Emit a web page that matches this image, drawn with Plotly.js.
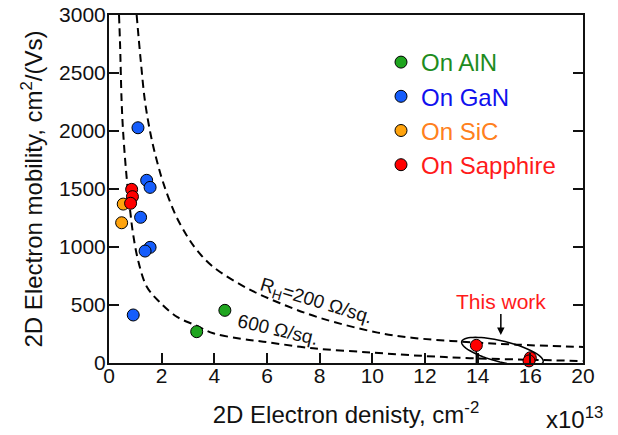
<!DOCTYPE html>
<html>
<head>
<meta charset="utf-8">
<script src="https://cdn.plot.ly/plotly-3.0.1.min.js"></script>
<style>html,body{margin:0;padding:0;background:#fff;}#chart{width:618px;height:435px;}</style>
</head>
<body>
<div id="chart"></div>
<script>
// ---- data (density in 1e13 cm^-2, mobility in cm^2/Vs)
const alnX = [3.33, 4.40];
const alnY = [270, 454];
const ganX = [1.10, 1.43, 1.56, 1.20, 1.56, 1.37, 0.92];
const ganY = [2028, 1575, 1514, 1256, 997, 965, 414];
const sicX = [0.54, 0.48];
const sicY = [1370, 1209];
const sapX = [0.86, 0.89, 0.82, 13.95, 16.0, 15.95];
const sapY = [1497, 1434, 1377, 152, 45, 18];
const sapStem = [0, 0, 0, 152, 0, 0];

const rh200X = [1.05, 1.2, 1.37, 1.6, 1.81, 2.05, 2.5, 2.95, 3.33, 3.95, 5.2, 6.5, 8.0, 10.2, 11.5, 13.4, 15.5, 18.0];
const rh200Y = [3000, 2620, 2250, 1950, 1750, 1560, 1290, 1100, 975, 830, 650, 515, 390, 262, 218, 184, 158, 138];
const rh600X = [0.38, 0.42, 0.48, 0.54, 0.67, 0.8, 0.91, 1.1, 1.43, 1.9, 2.6, 3.3, 3.96, 5.0, 5.86, 7.75, 10.0, 12.0, 13.7, 16.0, 18.0];
const rh600Y = [3000, 2750, 2250, 1980, 1600, 1320, 1120, 890, 660, 530, 395, 325, 256, 210, 184, 127, 90, 60, 42, 28, 17];

const xTickVals = [0, 2, 4, 6, 8, 10, 12, 14, 16, 18];
const xTickText = ['0', '2', '4', '6', '8', '10', '12', '14', '16', '20'];
const yTickVals = [0, 500, 1000, 1500, 2000, 2500, 3000];

// ---- styling
const FONT = 'Liberation Sans, Arial, sans-serif';
const W = 618, H = 435;
const M = {l: 109, r: 35, t: 15, b: 72, pad: 0};
const X_RANGE = [0, 18], Y_RANGE = [0, 3000];
const pxX = (W - M.l - M.r) / (X_RANGE[1] - X_RANGE[0]);
const pxY = (H - M.t - M.b) / (Y_RANGE[1] - Y_RANGE[0]);

function pts(name, x, y, fill, textColor, extra) {
  return Object.assign({
    type: 'scatter', mode: 'markers', x: x, y: y,
    name: '<span style="color:' + textColor + '">' + name + '</span>',
    legendgroup: name,
    cliponaxis: false,
    marker: {size: 12, color: fill, line: {color: '#000', width: 1}}
  }, extra || {});
}
function curve(x, y) {
  return {type: 'scatter', mode: 'lines', x: x, y: y, showlegend: false, hoverinfo: 'skip',
    line: {color: '#000', width: 2, dash: '8px,5px', shape: 'spline', smoothing: 1}};
}

const traces = [
  curve(rh200X, rh200Y),
  curve(rh600X, rh600Y),
  pts('On AlN', alnX, alnY, '#1fa51f', '#1e8c1e'),
  pts('On GaN', ganX, ganY, '#155dfc', '#1010ee'),
  pts('On SiC', sicX, sicY, '#ffa30d', '#ff8020'),
  pts('On Sapphire', sapX, sapY, '#ff0000', '#ff1a1a', {
    error_y: {type: 'data', symmetric: false, array: sapX.map(() => 0), arrayminus: sapStem,
      color: '#000', thickness: 1.5, width: 0}
  })
];

// rotated ellipse around "This work" points (in pixel units, converted to data)
const ell = {cx: 14.94, cy: 97, a: 42, b: 10.5, th: 14 * Math.PI / 180};
let path = '';
for (let i = 0; i <= 72; i++) {
  const p = i / 72 * 2 * Math.PI;
  const dx = ell.a * Math.cos(p) * Math.cos(ell.th) - ell.b * Math.sin(p) * Math.sin(ell.th);
  const dy = ell.a * Math.cos(p) * Math.sin(ell.th) + ell.b * Math.sin(p) * Math.cos(ell.th);
  const x = ell.cx + dx / pxX, y = ell.cy - dy / pxY;
  path += (i === 0 ? 'M' : 'L') + x.toFixed(4) + ',' + y.toFixed(2);
}
path += 'Z';

const axisCommon = {
  showgrid: false, zeroline: false, showline: true, linecolor: '#111', linewidth: 2,
  ticks: 'inside', ticklen: 10, tickwidth: 2, tickcolor: '#111',
  tickfont: {family: FONT, size: 21, color: '#111'}
};

const layout = {
  width: W, height: H, margin: M,
  paper_bgcolor: '#fff', plot_bgcolor: '#fff',
  font: {family: FONT, color: '#111'},
  showlegend: true,
  legend: {x: (381 - M.l) / (W - M.l - M.r), xanchor: 'left', y: 1 - (40 - M.t) / (H - M.t - M.b), yanchor: 'top',
    bgcolor: 'rgba(0,0,0,0)', borderwidth: 0, font: {family: FONT, size: 24}, itemsizing: 'trace', tracegroupgap: 0},
  xaxis: Object.assign({}, axisCommon, {
    range: X_RANGE, mirror: true, tickmode: 'array', tickvals: xTickVals, ticktext: xTickText,
    ticklabelstandoff: -7,
    title: {text: '2D Electron denisty, cm<sup>-2</sup>', font: {family: FONT, size: 24, color: '#111'}, standoff: 20}
  }),
  yaxis: Object.assign({}, axisCommon, {
    range: Y_RANGE, mirror: 'ticks', tickmode: 'array', tickvals: yTickVals,
    ticklabelstandoff: -3,
    title: {text: '2D Electron mobility, cm<sup>2</sup>/(Vs)', font: {family: FONT, size: 24, color: '#111'}, standoff: 10}
  }),
  shapes: [{type: 'path', xref: 'x', yref: 'y', path: path, line: {color: '#000', width: 1.5}, fillcolor: 'rgba(0,0,0,0)'}],
  annotations: [
    {xref: 'x', yref: 'y', x: 7.86, y: 530, text: 'R<sub>H</sub>=200 Ω/sq.', showarrow: false, textangle: 17,
      font: {family: FONT, size: 19, color: '#111'}},
    {xref: 'x', yref: 'y', x: 6.4, y: 288, text: '600 Ω/sq.', showarrow: false, textangle: 13,
      font: {family: FONT, size: 19, color: '#111'}},
    {xref: 'x', yref: 'y', x: 14.88, y: 241, text: 'This work', showarrow: true, ax: 0, ay: -34,
      arrowhead: 2, arrowsize: 1, arrowwidth: 1.5, arrowcolor: '#000', standoff: 0,
      font: {family: FONT, size: 21, color: '#ff1a1a'}},
    {xref: 'paper', yref: 'paper', x: (574 - M.l) / (W - M.l - M.r), y: -(418 - (H - M.b)) / (H - M.t - M.b),
      xanchor: 'center', yanchor: 'middle', text: 'x10<sup>13</sup>', showarrow: false,
      font: {family: FONT, size: 24, color: '#111'}}
  ]
};

Plotly.newPlot('chart', traces, layout, {displayModeBar: false, staticPlot: true});
</script>
</body>
</html>
